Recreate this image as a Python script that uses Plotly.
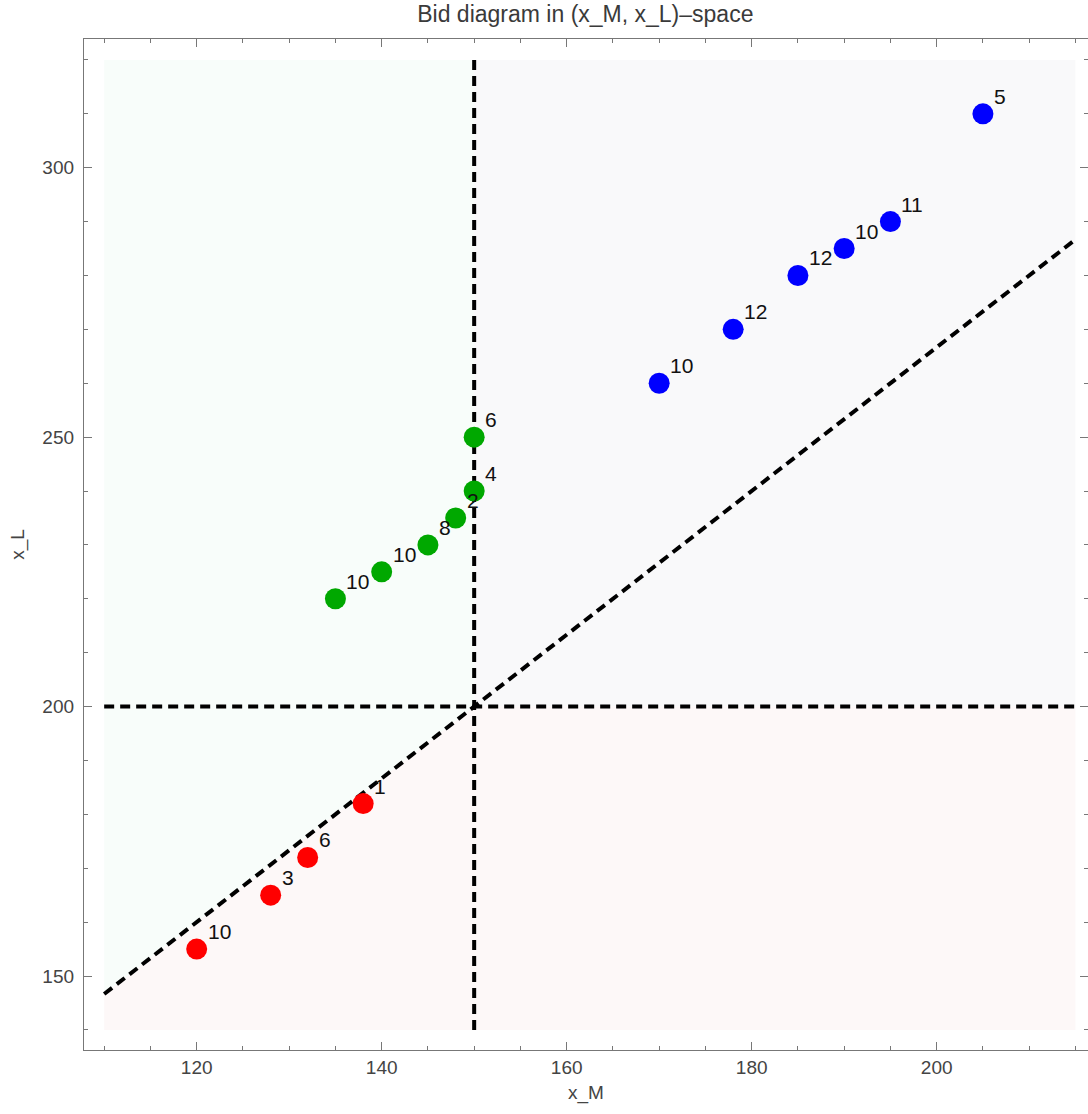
import plotly.graph_objects as go

# ---- data ----
red_x = [120, 128, 132, 138]
red_y = [155, 165, 172, 182]
red_lab = ["10", "3", "6", "1"]

green_x = [135, 140, 145, 148, 150, 150]
green_y = [220, 225, 230, 235, 240, 250]
green_lab = ["10", "10", "8", "2", "4", "6"]

blue_x = [170, 178, 185, 190, 195, 205]
blue_y = [260, 270, 280, 285, 290, 310]
blue_lab = ["10", "12", "12", "10", "11", "5"]

# region / reference lines
x_min, x_max = 110, 215
y_min, y_max = 140, 320
x_cut, y_cut = 150, 200
slope = 4 / 3

FONT = "Liberation Sans, Arial, sans-serif"

fig = go.Figure()

def diag(x):
    return y_cut + slope * (x - x_cut)

# background regions
gx = [x_min, x_cut, x_cut, x_min, x_min]
gy = [diag(x_min), y_cut, y_max, y_max, diag(x_min)]
fig.add_trace(go.Scatter(x=gx, y=gy, fill="toself", mode="none",
                         fillcolor="rgb(248,253,250)", hoverinfo="skip", showlegend=False))
fig.add_trace(go.Scatter(x=[x_cut, x_max, x_max, x_cut, x_cut], y=[y_cut, y_cut, y_max, y_max, y_cut],
                         fill="toself", mode="none", fillcolor="rgb(249,249,250)",
                         hoverinfo="skip", showlegend=False))
fig.add_trace(go.Scatter(x=[x_min, x_max, x_max, x_cut, x_min, x_min],
                         y=[y_min, y_min, y_cut, y_cut, diag(x_min), y_min],
                         fill="toself", mode="none", fillcolor="rgb(253,248,248)",
                         hoverinfo="skip", showlegend=False))

dash = "10px,6px"
line_style = dict(color="black", width=4, dash=dash)
fig.add_trace(go.Scatter(x=[x_cut, x_cut], y=[y_min, y_max], mode="lines", line=line_style,
                         hoverinfo="skip", showlegend=False))
fig.add_trace(go.Scatter(x=[x_min, x_max], y=[y_cut, y_cut], mode="lines", line=line_style,
                         hoverinfo="skip", showlegend=False))
fig.add_trace(go.Scatter(x=[x_min, x_max], y=[diag(x_min), diag(x_max)], mode="lines", line=line_style,
                         hoverinfo="skip", showlegend=False))

for xs, ys, labs, col in [(red_x, red_y, red_lab, "rgb(255,0,0)"),
                          (green_x, green_y, green_lab, "rgb(0,168,0)"),
                          (blue_x, blue_y, blue_lab, "rgb(0,0,255)")]:
    fig.add_trace(go.Scatter(x=xs, y=ys, mode="markers",
                             marker=dict(size=21, color=col, line=dict(width=0)),
                             showlegend=False))
    for x, y, t in zip(xs, ys, labs):
        fig.add_annotation(x=x, y=y, text=t, showarrow=False, xanchor="left", yanchor="bottom",
                           xshift=9, yshift=4, font=dict(family=FONT, size=21, color="#111"))

axis_common = dict(
    showgrid=False, zeroline=False, showline=True, linecolor="#777", linewidth=1.3,
    mirror="allticks", ticks="inside", ticklen=8, tickwidth=1.2, tickcolor="#777",
    tickfont=dict(family=FONT, size=19, color="#444"),
)

fig.update_xaxes(range=[107.82, 216.36], tick0=120, dtick=20,
                 minor=dict(ticks="inside", dtick=5, tick0=110, ticklen=4, tickcolor="#777", showgrid=False),
                 title=dict(text="x_M", font=dict(family=FONT, size=19, color="#444"), standoff=8),
                 **axis_common)
fig.update_yaxes(range=[136.27, 323.88], tick0=150, dtick=50,
                 minor=dict(ticks="inside", dtick=10, tick0=140, ticklen=4, tickcolor="#777", showgrid=False),
                 title=dict(text="x_L", font=dict(family=FONT, size=19, color="#444"), standoff=12),
                 ticklabelstandoff=5,
                 **axis_common)

fig.update_layout(
    width=1088, height=1114,
    margin=dict(l=84, r=0, t=39, b=64, autoexpand=False),
    paper_bgcolor="white", plot_bgcolor="white",
    title=dict(text="Bid diagram in (x_M, x_L)\u2013space", x=0.538, xanchor="center",
               y=1 - 14 / 1114, yanchor="middle",
               font=dict(family=FONT, size=23, color="#3a3a3a")),
)

fig.write_html("out.html")
